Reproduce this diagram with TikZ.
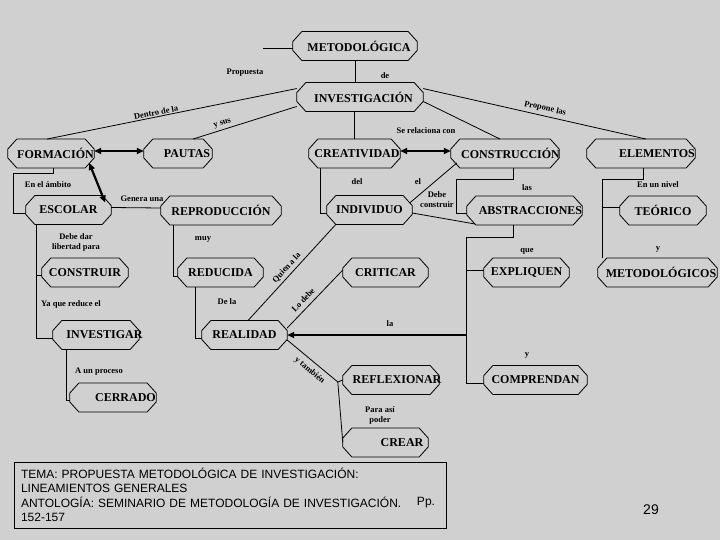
\documentclass[tikz,border=0pt]{standalone}
\usepackage{fontspec}
\setmainfont{Liberation Serif}
\newfontfamily\sansf{Liberation Sans}
\usetikzlibrary{arrows.meta}
\definecolor{bg}{RGB}{208,208,208}
\newcommand{\bx}[2]{\makebox[0pt]{\hspace*{#1pt}#2}}
\begin{document}
\begin{tikzpicture}[x=1pt,y=-1pt,
  box/.style={inner sep=0pt, minimum height=28.5pt, font=\bfseries\fontsize{12}{14}\selectfont},
  lbl/.style={inner sep=1pt, font=\bfseries\fontsize{8.5}{10}\selectfont, align=center},
  slbl/.style={inner sep=0pt, font=\bfseries\fontsize{8.5}{10}\selectfont, sloped},
  ln/.style={line width=0.8pt},
  oct/.style={line width=0.8pt, line join=miter},
  thk/.style={line width=2.2pt, {Triangle[length=7pt,width=6pt]}-{Triangle[length=7pt,width=6pt]}},
  thka/.style={line width=2.2pt, -{Triangle[length=7pt,width=6pt]}}
]
\fill[bg] (0,0) rectangle (720,540);
\useasboundingbox (0,0) rectangle (720,540);

% boxes
\node[box, minimum width=124] (MET) at (355,46) {\bx{8}{METODOLÓGICA}};
\node[box, minimum width=126] (INV) at (360,97) {\bx{7}{INVESTIGACIÓN}};
\node[box, minimum width=86] (FOR) at (51,153.5) {\bx{9}{FORMACIÓN}};
\node[box, minimum width=68] (PAU) at (178,153.5) {\bx{18}{PAUTAS}};
\node[box, minimum width=91] (CRE) at (354.5,153.5) {\bx{5}{CREATIVIDAD}};
\node[box, minimum width=108] (CON) at (505,153.5) {\bx{11}{CONSTRUCCIÓN}};
\node[box, minimum width=108] (ELE) at (641,153.5) {\bx{32}{ELEMENTOS}};
\node[box, minimum width=85] (ESC) at (68.5,210) {\bx{0}{ESCOLAR}};
\node[box, minimum width=120] (REP) at (221,210.5) {\bx{0}{REPRODUCCIÓN}};
\node[box, minimum width=85] (IND) at (369.5,210) {\bx{0}{INDIVIDUO}};
\node[box, minimum width=115] (ABS) at (524.5,210.5) {\bx{12}{ABSTRACCIONES}};
\node[box, minimum width=86] (TEO) at (663,210.5) {\bx{0}{TEÓRICO}};
\node[box, minimum width=86] (CONS) at (85,272.5) {\bx{0}{CONSTRUIR}};
\node[box, minimum width=85] (RED) at (220.5,272.5) {\bx{0}{REDUCIDA}};
\node[box, minimum width=85] (CRI) at (385.5,272.5) {\bx{0}{CRITICAR}};
\node[box, minimum width=85] (EXP) at (526.5,272.5) {\bx{0}{EXPLIQUEN}};
\node[box, minimum width=119] (MTD) at (657.5,272.5) {\bx{7}{METODOLÓGICOS}};
\node[box, minimum width=86] (INVG) at (96,335) {\bx{17}{INVESTIGAR}};
\node[box, minimum width=85] (REA) at (244.5,335) {\bx{0}{REALIDAD}};
\node[box, minimum width=86] (CER) at (113,397.5) {\bx{25}{CERRADO}};
\node[box, minimum width=96] (REF) at (391,380) {\bx{12}{REFLEXIONAR}};
\node[box, minimum width=103] (COM) at (535.5,380) {\bx{0}{COMPRENDAN}};
\node[box, minimum width=85] (CREAR) at (385.5,442.5) {\bx{33}{CREAR}};

\foreach \n in {MET,INV,FOR,PAU,CRE,CON,ELE,ESC,REP,IND,ABS,TEO,CONS,RED,CRI,EXP,MTD,INVG,REA,CER,REF,COM,CREAR}{
  \draw[oct] ([xshift=9]\n.north west) -- ([xshift=-9]\n.north east) -- ([yshift=-10]\n.north east)
    -- ([yshift=10]\n.south east) -- ([xshift=-9]\n.south east) -- ([xshift=9]\n.south west)
    -- ([yshift=10]\n.south west) -- ([yshift=-10]\n.north west) -- cycle;
}

% connectors
\coordinate (m0) at (263,48);
\draw[ln] (m0) -- (MET.west |- m0);
\draw[ln] (MET.south) -- (MET.south |- INV.north);
\draw[ln] (CRE.north |- INV.south) -- (CRE.north);
\draw[ln] ([yshift=-6]INV.north west) -- node[slbl, above=1pt, pos=0.56] {Dentro de la} ([xshift=-4]FOR.north);
\draw[ln] ([yshift=5]INV.south west) -- node[slbl, above=2pt, pos=0.70] {y sus} ([xshift=15]PAU.north);
\draw[ln] ([yshift=-6]INV.north east) -- node[slbl, above=3pt, pos=0.54] {Propone las} ([xshift=5]ELE.north);
\draw[ln] ([yshift=10]INV.south east) -- ([xshift=-5]CON.north);

\draw[thk] ([yshift=2.5]FOR.east) -- ([yshift=2.5]PAU.west);
\draw[thk] ([yshift=2.5]CRE.east) -- ([yshift=2.5]CON.west);
\draw[thk] ([xshift=-5,yshift=5]FOR.south east) -- ([xshift=-6,yshift=-7]ESC.north east);

\draw[ln] ([xshift=2]FOR.south) -- ++(0,5) -| ([xshift=-12,yshift=-3]ESC.west) -- ([yshift=-3]ESC.west);
\draw[ln] ([yshift=2.5]ESC.east) -- ([yshift=2.5]REP.west);
\draw[ln] ([xshift=-48]REP.south) |- ([yshift=-3.5]RED.west);
\draw[ln] ([xshift=-25]RED.south) |- ([yshift=-3]REA.west);
\draw[ln] ([xshift=-34]CRE.south) |- ([yshift=-3]IND.west);
\draw[ln] ([xshift=6,yshift=5]CON.south west) -- ([xshift=-2,yshift=-7]IND.north east);
\draw[ln] ([yshift=-3]IND.east) -- ([xshift=8,yshift=1]ABS.south west);
\draw[ln] ([xshift=8]CON.south) -- ++(0,11) -| ([xshift=-10,yshift=-3]ABS.west) -- ([yshift=-3]ABS.west);
\draw[ln] ([xshift=2]ELE.south) -- ++(0,11) -| ([xshift=5]MTD.north west);
\draw[ln] ([xshift=5]MTD.north west) |- ([yshift=3]TEO.west);
\draw[ln] ([xshift=-32]ESC.south) |- ([yshift=-3]INVG.west);
\draw[ln] ([xshift=-32]ESC.south) |- ([yshift=-2.5]CONS.west);
\draw[ln] ([xshift=-30]INVG.south) |- ([yshift=-2.5]CER.west);
\draw[ln] ([xshift=9]IND.south west) -- node[slbl, above=3pt, pos=0.5] {Quien a la} ([xshift=3.5]REA.north);
\draw[ln] ([yshift=2.5]CRI.west) -- node[slbl, above=4.5pt, pos=0.61] {Lo debe} ([yshift=7]REA.east);

\coordinate (bus) at ([xshift=-17]EXP.west);
\draw[ln] ([xshift=-11.5]ABS.south) -- ++(0,12) -| ([xshift=-17,yshift=-3]COM.west) -- ([yshift=-3]COM.west);
\draw[ln] ([xshift=-17,yshift=2.5]EXP.west) -- ([yshift=2.5]EXP.west);
\draw[thka] (bus |- REA.east) -- (REA.east);

\coordinate (j) at ([xshift=-5,yshift=-2]REF.west);
\draw[ln] ([yshift=-5]REA.east) -- node[slbl, below=5pt, pos=0.56] {y también} (j) -- (REF.west);
\draw[ln] (j) -- (CREAR.west);

% labels
\node[lbl] (lPro) at (245,73) {Propuesta};
\node[lbl] (lde) at (385,76) {de};
\node[lbl] (lSe) at (426,131) {Se relaciona con};
\node[lbl] (ldel) at (357,182) {del};
\node[lbl] (lel) at (418,182) {el};
\node[lbl] (lDeb) at (437,200) {Debe\\construir};
\node[lbl] (llas) at (527,188) {las};
\node[lbl] (lEnN) at (658,185) {En un nivel};
\node[lbl] (lEnA) at (48,185) {En el ámbito};
\node[lbl] (lGen) at (142,199) {Genera una};
\node[lbl] (lDar) at (76,242) {Debe dar\\libertad para};
\node[lbl] (lYa) at (71,304) {Ya que reduce el};
\node[lbl] (lmuy) at (203,239) {muy};
\node[lbl] (lDeLa) at (227,302) {De la};
\node[lbl] (lla) at (390,324) {la};
\node[lbl] (lque) at (527,251) {que};
\node[lbl] (ly1) at (658,249) {y};
\node[lbl] (ly2) at (527,355) {y};
\node[lbl] (lApr) at (99,372) {A un proceso};
\node[lbl] (lPara) at (380,415) {Para así\\poder};

% bottom
\node[draw, line width=0.8pt, text width=418pt, inner xsep=7pt, inner ysep=0pt, minimum height=66pt,
  align=left, font=\sansf\fontsize{12}{14.5}\selectfont] (TEMA) at (230,495)
  {TEMA: PROPUESTA METODOLÓGICA DE INVESTIGACIÓN:\\LINEAMIENTOS GENERALES\\ANTOLOGÍA: SEMINARIO DE METODOLOGÍA DE INVESTIGACIÓN.\\152-157};
\node[font=\sansf\fontsize{12}{14}\selectfont] (PP) at (426,503) {Pp.};
\node[font=\sansf\fontsize{14}{16}\selectfont] (PG) at (651,510) {29};
\end{tikzpicture}
\end{document}
